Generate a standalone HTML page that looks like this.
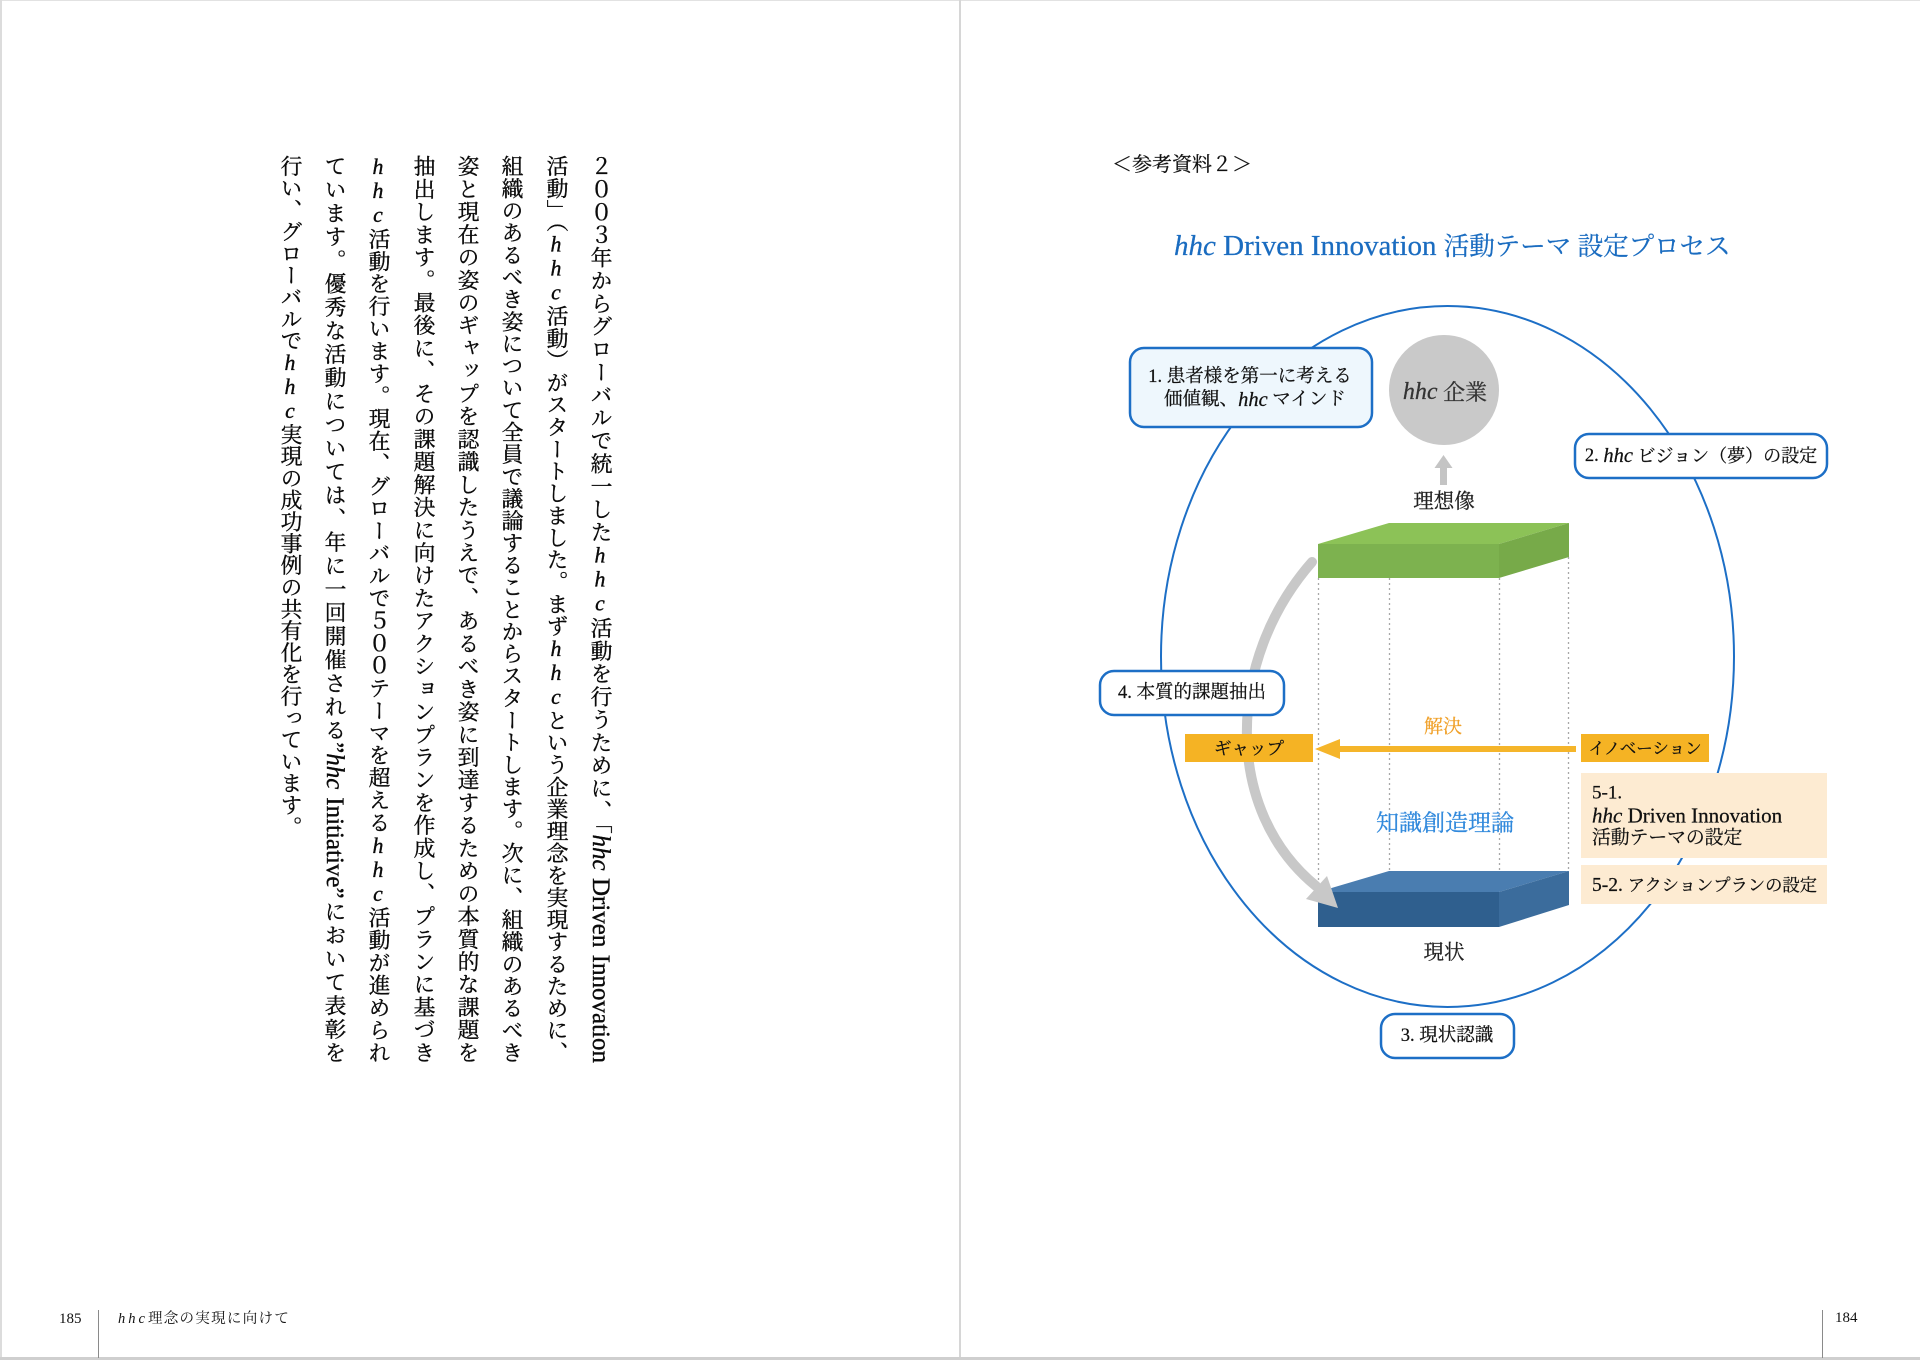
<!DOCTYPE html>
<html lang="ja">
<head>
<meta charset="utf-8">
<style>
  html,body{margin:0;padding:0;background:#fff;}
  body{width:1920px;height:1360px;position:relative;overflow:hidden;
       font-family:"Liberation Serif","Noto Serif CJK SC",serif;color:#111;}
  .col{position:absolute;top:155px;height:908px;width:44px;
       writing-mode:vertical-rl;font-size:21.8px;line-height:44px;
       text-align:justify;text-align-last:justify;color:#0a0a0a;
       -webkit-text-stroke:0.35px #0a0a0a;}
  .col.last{text-align-last:start;}
  .u{text-orientation:upright;font-style:italic;}
  .l{font-size:25px;}
  .li{font-size:25px;font-style:italic;}
  .line{position:absolute;background:#d6d6d6;}
  svg text{stroke:currentColor;stroke-width:0.25px;}
</style>
</head>
<body>
<!-- page frame lines -->
<div class="line" style="left:0;top:0;width:1920px;height:1px;background:#e2e2e2;"></div>
<div class="line" style="left:0;top:0;width:2px;height:1360px;background:#dcdcdc;"></div>
<div class="line" style="left:959px;top:0;width:2px;height:1360px;"></div>
<div class="line" style="left:0;top:1357px;width:1920px;height:3px;background:#cfcfcf;"></div>

<!-- left page vertical text -->
<div class="col" style="left:578px;">２００３年からグローバルで統一した<span class="u">hhc</span>活動を行うために、「<span class="li">hhc</span><span class="l"> Driven Innovation</span></div>
<div class="col" style="left:534px;">活動」（<span class="u">hhc</span>活動）がスタートしました。まず<span class="u">hhc</span>という企業理念を実現するために、</div>
<div class="col" style="left:489px;">組織のあるべき姿について全員で議論することからスタートします。次に、組織のあるべき</div>
<div class="col" style="left:445px;">姿と現在の姿のギャップを認識したうえで、あるべき姿に到達するための本質的な課題を</div>
<div class="col" style="left:401px;">抽出します。最後に、その課題解決に向けたアクションプランを作成し、プランに基づき</div>
<div class="col" style="left:356px;"><span class="u">hhc</span>活動を行います。現在、グローバルで５００テーマを超える<span class="u">hhc</span>活動が進められ</div>
<div class="col" style="left:312px;">ています。優秀な活動については、年に一回開催される<span class="l">”</span><span class="li">hhc</span><span class="l"> Initiative”</span>において表彰を</div>
<div class="col last" style="left:268px;">行い、グローバルで<span class="u">hhc</span>実現の成功事例の共有化を行っています。</div>

<!-- left footer -->
<div style="position:absolute;left:59px;top:1309px;font-size:15px;line-height:20px;">185</div>
<div class="line" style="left:98px;top:1310px;width:1px;height:48px;background:#8a8a8a;"></div>
<div style="position:absolute;left:118px;top:1309px;font-size:14.5px;line-height:20px;letter-spacing:1.3px;"><i style="letter-spacing:3px;">hhc</i>理念の実現に向けて</div>

<!-- right footer -->
<div class="line" style="left:1822px;top:1310px;width:1px;height:48px;background:#8a8a8a;"></div>
<div style="position:absolute;left:1835px;top:1308px;font-size:15px;line-height:20px;">184</div>

<!-- right page diagram -->
<svg width="1920" height="1360" viewBox="0 0 1920 1360" style="position:absolute;left:0;top:0;"
     font-family="'Liberation Serif','Noto Serif CJK SC',serif">
  <!-- heading -->
  <text x="1112" y="165" font-size="20" dominant-baseline="central" fill="#111" color="#111">＜参考資料２＞</text>
  <text x="1174" y="246" dominant-baseline="central" fill="#1a6cc0" color="#1a6cc0">
    <tspan font-size="29" font-style="italic">hhc</tspan><tspan font-size="29"> Driven Innovation </tspan><tspan font-size="25.5">活動テーマ 設定プロセス</tspan>
  </text>

  <!-- big ellipse -->
  <ellipse cx="1447.5" cy="656.5" rx="286.5" ry="350.5" fill="none" stroke="#1d6fc6" stroke-width="2"/>

  <!-- hhc company circle -->
  <circle cx="1444" cy="390" r="55" fill="#c9c9c9"/>
  <text x="1445" y="392" text-anchor="middle" dominant-baseline="central" fill="#333" color="#333">
    <tspan font-size="24" font-style="italic">hhc</tspan><tspan font-size="22"> 企業</tspan>
  </text>
  <!-- small up arrow -->
  <rect x="1440" y="466" width="7" height="19" fill="#c4c4c4"/>
  <polygon points="1443.5,455 1434.5,468 1452.5,468" fill="#c4c4c4"/>
  <text x="1444" y="502" font-size="20.5" text-anchor="middle" dominant-baseline="central" fill="#222" color="#222">理想像</text>

  <!-- dotted guide lines -->
  <g stroke="#a8a8a8" stroke-width="1.3" stroke-dasharray="2,3">
    <line x1="1318.5" y1="578" x2="1318.5" y2="892"/>
    <line x1="1389.5" y1="578" x2="1389.5" y2="871"/>
    <line x1="1499.5" y1="578" x2="1499.5" y2="890"/>
    <line x1="1568.5" y1="557" x2="1568.5" y2="871"/>
  </g>

  <!-- green box (ideal) -->
  <polygon points="1318,544 1389,523 1569,523 1499,544" fill="#8cc257"/>
  <rect x="1318" y="544" width="181" height="34" fill="#7db24f"/>
  <polygon points="1499,544 1569,523 1569,557 1499,578" fill="#77aa49"/>

  <!-- blue box (current) -->
  <polygon points="1318,892 1389,871 1569,871 1499,892" fill="#4a7db0"/>
  <rect x="1318" y="892" width="181" height="35" fill="#2f5f8e"/>
  <polygon points="1499,892 1569,871 1569,905 1499,927" fill="#3b6c9c"/>

  <!-- gray curved arrow -->
  <path d="M1312,562 C1226,660 1223,810 1316,886" fill="none" stroke="#c8c8c8" stroke-width="10" stroke-linecap="round"/>
  <polygon points="1338,908 1306,899 1327,876" fill="#c8c8c8"/>

  <!-- orange arrow -->
  <line x1="1576" y1="749" x2="1334" y2="749" stroke="#f5b52a" stroke-width="6"/>
  <polygon points="1315,749 1340,739 1340,759" fill="#f5b52a"/>
  <text x="1443" y="727" font-size="19" text-anchor="middle" dominant-baseline="central" fill="#f0a028" color="#f0a028">解決</text>

  <rect x="1185" y="734" width="128" height="28" fill="#f5b324"/>
  <text x="1249" y="748.5" font-size="17.5" text-anchor="middle" dominant-baseline="central" fill="#111" color="#111">ギャップ</text>
  <rect x="1581" y="734" width="128" height="28" fill="#f5b324"/>
  <text x="1645" y="748.5" font-size="16.5" text-anchor="middle" dominant-baseline="central" fill="#111" color="#111">イノベーション</text>

  <text x="1445" y="823" font-size="23" text-anchor="middle" dominant-baseline="central" fill="#3189dc" color="#3189dc">知識創造理論</text>
  <text x="1444" y="953" font-size="20.5" text-anchor="middle" dominant-baseline="central" fill="#222" color="#222">現状</text>

  <!-- 5-1 / 5-2 -->
  <rect x="1581" y="773" width="246" height="85" fill="#fdebd2"/>
  <text x="1592" y="793" font-size="19" dominant-baseline="central" fill="#111" color="#111">5-1.</text>
  <text x="1592" y="815.5" dominant-baseline="central" fill="#111" color="#111"><tspan font-size="21" font-style="italic">hhc</tspan><tspan font-size="21"> Driven Innovation</tspan></text>
  <text x="1592" y="838" font-size="18.8" dominant-baseline="central" fill="#111" color="#111">活動テーマの設定</text>
  <rect x="1581" y="865" width="246" height="39" fill="#fdebd2"/>
  <text x="1592" y="885" dominant-baseline="central" fill="#111" color="#111"><tspan font-size="19.5">5-2. </tspan><tspan font-size="17.3">アクションプランの設定</tspan></text>

  <!-- rounded label boxes -->
  <g stroke="#1d6fc6" stroke-width="2.5">
    <rect x="1130" y="348" width="242" height="79" rx="14" fill="#eef7fd"/>
    <rect x="1575" y="434" width="252" height="44" rx="14" fill="#ffffff"/>
    <rect x="1100" y="671" width="184" height="44" rx="14" fill="#ffffff"/>
    <rect x="1381" y="1014" width="133" height="44" rx="14" fill="#ffffff"/>
  </g>
  <text x="1250" y="377" font-size="18.5" text-anchor="middle" dominant-baseline="central" fill="#111" color="#111">1. 患者様を第一に考える</text>
  <text x="1255" y="400" text-anchor="middle" dominant-baseline="central" fill="#111" color="#111"><tspan font-size="18.5">価値観、</tspan><tspan font-size="20.5" font-style="italic">hhc</tspan><tspan font-size="18.5"> マインド</tspan></text>
  <text x="1701" y="456" text-anchor="middle" dominant-baseline="central" fill="#111" color="#111"><tspan font-size="18.5">2. </tspan><tspan font-size="20.5" font-style="italic">hhc</tspan><tspan font-size="18"> ビジョン（夢）の設定</tspan></text>
  <text x="1192" y="693" font-size="18.5" text-anchor="middle" dominant-baseline="central" fill="#111" color="#111">4. 本質的課題抽出</text>
  <text x="1447" y="1036" font-size="18.5" text-anchor="middle" dominant-baseline="central" fill="#111" color="#111">3. 現状認識</text>
</svg>
</body>
</html>
